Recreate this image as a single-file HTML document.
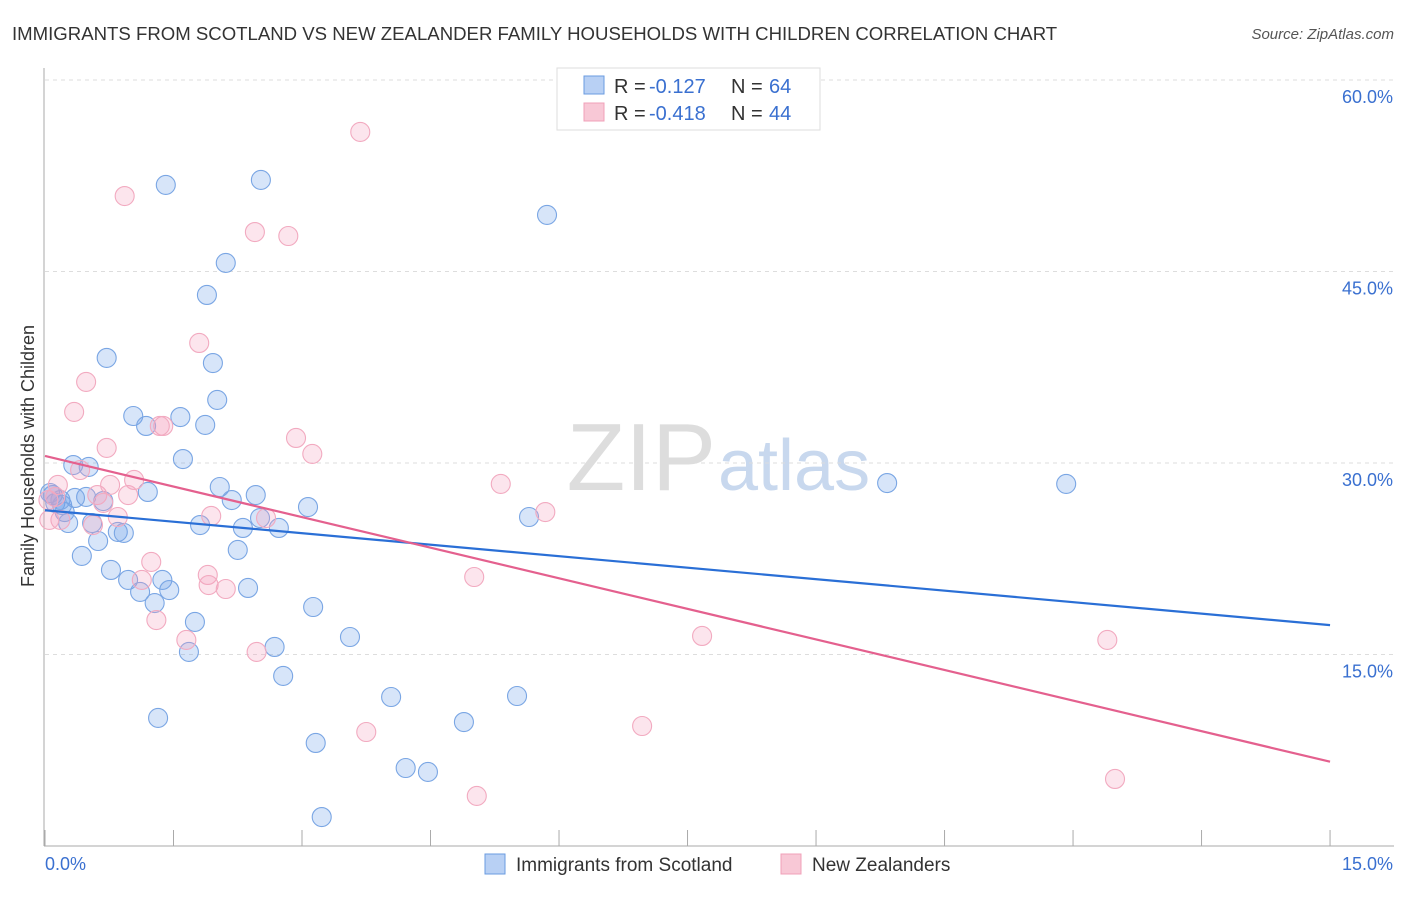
<!DOCTYPE html>
<html><head><meta charset="utf-8"><style>
body{margin:0;background:#fff;font-family:"Liberation Sans",sans-serif}
svg text{font-family:"Liberation Sans",sans-serif}
</style></head><body>
<svg id="chart" width="1406" height="892">
<text x="12" y="40" font-size="18.6" fill="#333">IMMIGRANTS FROM SCOTLAND VS NEW ZEALANDER FAMILY HOUSEHOLDS WITH CHILDREN CORRELATION CHART</text>
<text x="1394" y="39" font-size="15" fill="#555" font-style="italic" text-anchor="end">Source: ZipAtlas.com</text>
<text x="716" y="490" font-size="96" fill="#ddd" text-anchor="end" font-family="Liberation Serif">ZIP</text>
<text x="718" y="490" font-size="72" fill="#c8d8ee">atlas</text>
<g id="grid"></g>
<g id="axes"></g>
<g id="pts"></g>
<g id="lines"></g>
<text transform="translate(34,456) rotate(-90)" font-size="18" fill="#333" text-anchor="middle">Family Households with Children</text>
<g>
<rect x="557" y="68" width="263" height="62" fill="#fff" stroke="#ddd"/>
<rect x="584" y="76" width="20" height="18" fill="#b8d0f4" stroke="#6a9be0"/>
<text x="614" y="93" font-size="20" fill="#333">R =</text>
<text x="649" y="93" font-size="20" fill="#3a70d0">-0.127</text>
<text x="731" y="93" font-size="20" fill="#333">N =</text>
<text x="769" y="93" font-size="20" fill="#3a70d0">64</text>
<rect x="584" y="103" width="20" height="18" fill="#f8c8d6" stroke="#f0a0b8"/>
<text x="614" y="120" font-size="20" fill="#333">R =</text>
<text x="649" y="120" font-size="20" fill="#3a70d0">-0.418</text>
<text x="731" y="120" font-size="20" fill="#333">N =</text>
<text x="769" y="120" font-size="20" fill="#3a70d0">44</text>
</g>
<g>
<rect x="485" y="854" width="20" height="20" fill="#b8d0f4" stroke="#6a9be0"/>
<text x="516" y="871" font-size="19" fill="#333">Immigrants from Scotland</text></g>
<g>
<rect x="781" y="854" width="20" height="20" fill="#f8c8d6" stroke="#f0a0b8"/>
<text x="812" y="871" font-size="19" fill="#333">New Zealanders</text></g>
</svg>
<script>
const blueX=[1.41,2.52,5.86,2.11,1.89,0.72,1.96,2.01,1.03,1.58,1.18,1.87,1.61,0.33,0.51,9.83,11.92,2.04,1.20,2.46,0.09,0.48,0.68,2.18,3.07,0.20,0.12,0.23,5.65,0.27,0.55,2.51,1.81,2.31,2.73,0.85,0.92,0.62,2.25,0.43,0.77,0.97,1.37,1.11,1.45,2.37,1.28,3.13,1.75,3.56,2.68,1.68,2.78,4.04,5.51,1.32,4.89,3.16,4.21,4.47,3.23,0.06,0.18,0.35];
const blueY=[51.78,52.17,49.43,45.67,43.16,38.23,37.83,34.94,33.68,33.60,32.90,32.98,30.31,29.84,29.69,28.43,28.36,28.12,27.73,27.49,27.49,27.34,27.02,27.10,26.55,26.71,26.87,26.16,25.77,25.30,25.30,25.69,25.14,24.91,24.91,24.60,24.52,23.89,23.19,22.72,21.62,20.84,20.84,19.90,20.05,20.21,19.03,18.72,17.55,16.37,15.59,15.20,13.32,11.67,11.75,10.03,9.71,8.07,6.11,5.80,2.27,27.65,27.10,27.26];
const pinkX=[3.68,0.93,2.45,2.84,1.80,0.48,0.34,1.38,1.34,0.72,2.93,3.12,0.41,5.32,5.84,0.15,0.61,0.97,0.76,1.04,0.68,0.12,0.18,0.05,0.56,0.85,1.94,2.58,1.24,1.13,1.90,1.91,2.11,5.01,1.30,7.67,12.40,1.65,2.47,3.75,6.97,12.49,5.04,0.04];
const pinkY=[55.93,50.91,48.09,47.78,39.40,36.35,34.00,32.90,32.90,31.18,31.96,30.71,29.45,28.36,26.16,28.28,27.49,27.49,28.28,28.67,26.87,27.34,25.54,25.54,25.14,25.77,25.85,25.69,22.25,20.84,21.23,20.44,20.13,21.07,17.70,16.45,16.14,16.14,15.20,8.93,9.40,5.25,3.92,27.10];
const blueLine=[26.3,17.3];
const pinkLine=[30.55,6.6];
const yTicks=[15,30,45,60];
const xTickCount=11;
const NS="http://www.w3.org/2000/svg";
const sx=v=>45+v*85.67, sy=v=>846-v*12.767;
function mk(tag,attrs,parent){const e=document.createElementNS(NS,tag);for(const k in attrs)e.setAttribute(k,attrs[k]);parent.appendChild(e);return e;}
const grid=document.getElementById('grid'),axes=document.getElementById('axes'),pts=document.getElementById('pts'),lines=document.getElementById('lines');
yTicks.forEach(t=>{
 const l=mk('line',{x1:45,x2:1394,y1:sy(t),y2:sy(t),stroke:'#ddd','stroke-dasharray':'4,4'},grid);
 
 
 const tx=mk('text',{x:1393,y:sy(t)+23,'font-size':18,fill:'#3a70d0','text-anchor':'end'},grid);
 tx.textContent=t.toFixed(1)+'%';
 
 
});
let a=mk('line',{x1:44,x2:44,y1:68,y2:846,stroke:'#aaa'},axes);


a=mk('line',{x1:44,x2:1394,y1:846,y2:846,stroke:'#aaa'},axes);


for(let i=0;i<xTickCount;i++){const x=sx(i*1.5);const t=mk('line',{x1:x,x2:x,y1:830,y2:846,stroke:'#aaa'},axes);
 
 }
let t0=mk('text',{x:45,y:870,'font-size':18,fill:'#3a70d0'},axes);t0.textContent='0.0%';


t0=mk('text',{x:1393,y:870,'font-size':18,fill:'#3a70d0','text-anchor':'end'},axes);t0.textContent='15.0%';


blueX.forEach((v,i)=>{const c=mk('circle',{cx:sx(v),cy:sy(blueY[i]),r:9.5,fill:'rgba(110,160,235,0.28)',stroke:'#7aa6e4','stroke-width':1.1},pts);
 
 });
pinkX.forEach((v,i)=>{const c=mk('circle',{cx:sx(v),cy:sy(pinkY[i]),r:9.5,fill:'rgba(245,160,190,0.28)',stroke:'#f2aac0','stroke-width':1.1},pts);
 
 });
let ln=mk('line',{x1:sx(0),y1:sy(blueLine[0]),x2:sx(15),y2:sy(blueLine[1]),stroke:'#2a6fd6','stroke-width':2.2},lines);


ln=mk('line',{x1:sx(0),y1:sy(pinkLine[0]),x2:sx(15),y2:sy(pinkLine[1]),stroke:'#e4608e','stroke-width':2.2},lines);


</script>
</body></html>
